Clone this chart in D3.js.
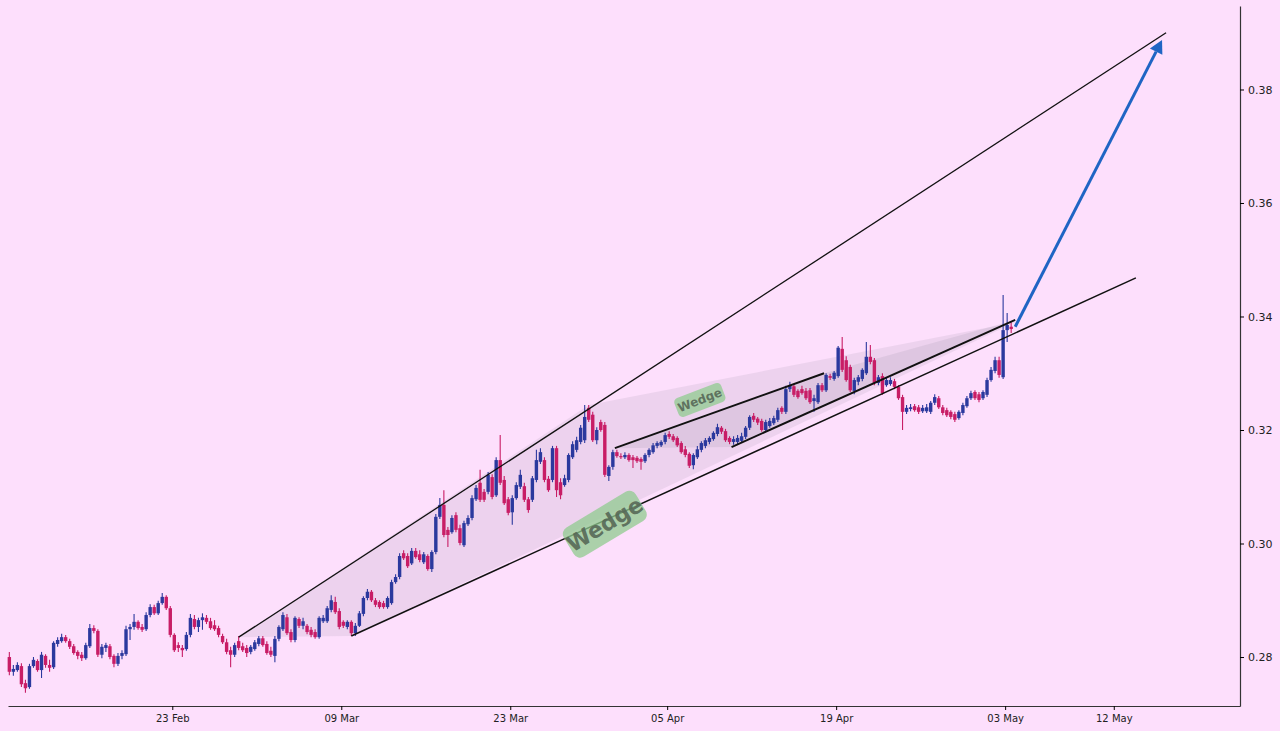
<!DOCTYPE html>
<html><head><meta charset="utf-8">
<script src="https://cdn.jsdelivr.net/npm/d3@7"></script>
<style>html,body{margin:0;padding:0;background:#fddffc;} svg{display:block}</style>
</head><body><svg id="c" width="1280" height="731"></svg>
<script>
// ---- data ----
const candleStart = "2023-02-09T12:00";   // first 8h candle
const candleHours = 8;
const opens=[.2800,.2774,.2777,.2784,.2754,.2747,.2784,.2793,.2777,.2802,
.2786,.2782,.2823,.2828,.2835,.2828,.2819,.2809,.2804,.2798,
.2819,.2851,.2846,.2804,.2816,.2819,.2802,.2788,.2802,.2805,
.2849,.2853,.2862,.2853,.2849,.2874,.2888,.2877,.2895,.2906,
.2886,.2839,.2821,.2816,.2814,.2839,.2867,.2853,.2865,.2869,
.2863,.2856,.2851,.2837,.2826,.2812,.2804,.2828,.2819,.2816,
.2809,.2814,.2823,.2833,.2823,.2811,.2802,.2832,.2849,.2870,
.2844,.2830,.2867,.2855,.2855,.2848,.2844,.2835,.2863,.2863,
.2883,.2897,.2881,.2862,.2853,.2862,.2842,.2855,.2876,.2904,
.2915,.2900,.2897,.2895,.2888,.2895,.2932,.2941,.2983,.2978,
.2965,.2987,.2981,.2967,.2978,.2955,.2985,.3047,.3068,.3024,
.3020,.3050,.3027,.2997,.3034,.3045,.3078,.3107,.3091,.3091,
.3117,.3085,.3147,.3112,.3078,.3055,.3080,.3100,.3101,.3078,
.3077,.3112,.3144,.3147,.3114,.3112,.3168,.3108,.3103,.3112,
.3152,.3165,.3179,.3182,.3239,.3227,.3182,.3214,.3209,.3119,
.3135,.3161,.3154,.3152,.3156,.3152,.3151,.3149,.3145,.3156,
.3161,.3172,.3173,.3179,.3193,.3189,.3186,.3177,.3166,.3158,
.3138,.3152,.3165,.3172,.3179,.3184,.3193,.3204,.3198,.3186,
.3179,.3179,.3181,.3188,.3204,.3225,.3220,.3216,.3200,.3207,
.3212,.3218,.3239,.3232,.3272,.3277,.3269,.3272,.3269,.3270,
.3251,.3249,.3279,.3270,.3295,.3290,.3295,.3343,.3323,.3311,
.3269,.3285,.3290,.3300,.3329,.3323,.3283,.3295,.3279,.3281,
.3286,.3276,.3258,.3232,.3237,.3242,.3240,.3233,.3233,.3232,
.3248,.3256,.3240,.3235,.3232,.3228,.3221,.3230,.3242,.3256,
.3267,.3263,.3256,.3262,.3288,.3304,.3323,.3293,.3376,.3382];
const highs=[.2809,.2786,.2791,.2789,.2760,.2788,.2800,.2796,.2809,.2805,
.2795,.2828,.2835,.2841,.2839,.2832,.2823,.2812,.2809,.2825,
.2858,.2856,.2849,.2823,.2825,.2823,.2805,.2807,.2812,.2855,
.2858,.2876,.2865,.2858,.2879,.2893,.2892,.2899,.2913,.2909,
.2890,.2842,.2826,.2821,.2844,.2876,.2874,.2869,.2877,.2874,
.2869,.2865,.2855,.2841,.2832,.2818,.2825,.2837,.2825,.2821,
.2821,.2830,.2837,.2837,.2828,.2818,.2837,.2856,.2879,.2876,
.2849,.2872,.2870,.2869,.2858,.2853,.2849,.2872,.2874,.2890,
.2909,.2906,.2886,.2865,.2865,.2865,.2860,.2881,.2907,.2920,
.2918,.2904,.2900,.2899,.2907,.2936,.2946,.2983,.2988,.2983,
.2992,.2992,.2988,.2985,.2981,.2988,.3052,.3080,.3094,.3029,
.3050,.3055,.3033,.3040,.3050,.3085,.3103,.3130,.3096,.3126,
.3122,.3152,.3191,.3119,.3082,.3085,.3108,.3130,.3107,.3082,
.3119,.3165,.3168,.3152,.3119,.3172,.3172,.3115,.3121,.3159,
.3180,.3188,.3209,.3244,.3244,.3232,.3205,.3218,.3214,.3138,
.3165,.3165,.3159,.3161,.3159,.3156,.3154,.3152,.3159,.3168,
.3177,.3180,.3182,.3195,.3198,.3193,.3189,.3180,.3172,.3161,
.3159,.3172,.3180,.3186,.3189,.3198,.3211,.3207,.3202,.3189,
.3189,.3191,.3195,.3207,.3226,.3230,.3223,.3220,.3218,.3221,
.3225,.3239,.3242,.3278,.3285,.3281,.3272,.3278,.3274,.3274,
.3262,.3283,.3283,.3300,.3299,.3304,.3348,.3364,.3330,.3315,
.3292,.3297,.3309,.3355,.3350,.3327,.3297,.3300,.3292,.3293,
.3290,.3279,.3262,.3244,.3246,.3246,.3244,.3244,.3246,.3251,
.3263,.3260,.3244,.3239,.3235,.3232,.3235,.3248,.3260,.3269,
.3270,.3267,.3270,.3292,.3311,.3329,.3329,.3438,.3406,.3390];
const lows=[.2768,.2767,.2774,.2747,.2737,.2744,.2781,.2774,.2763,.2781,
.2774,.2779,.2818,.2825,.2825,.2814,.2804,.2796,.2793,.2795,
.2816,.2842,.2800,.2798,.2809,.2796,.2782,.2784,.2796,.2802,
.2830,.2848,.2848,.2844,.2846,.2870,.2874,.2874,.2892,.2883,
.2835,.2809,.2809,.2800,.2811,.2835,.2849,.2844,.2848,.2858,
.2848,.2846,.2835,.2823,.2805,.2782,.2800,.2812,.2809,.2800,
.2805,.2811,.2819,.2818,.2804,.2800,.2791,.2828,.2846,.2839,
.2826,.2826,.2851,.2849,.2840,.2835,.2832,.2832,.2860,.2860,
.2879,.2876,.2849,.2851,.2849,.2837,.2837,.2853,.2872,.2900,
.2897,.2888,.2885,.2885,.2885,.2892,.2929,.2937,.2971,.2957,
.2962,.2973,.2967,.2964,.2952,.2950,.2981,.3043,.3011,.2994,
.3017,.3020,.2997,.2994,.3031,.3041,.3075,.3073,.3073,.3087,
.3078,.3082,.3103,.3068,.3050,.3033,.3077,.3096,.3073,.3054,
.3073,.3108,.3140,.3108,.3091,.3108,.3082,.3078,.3100,.3108,
.3149,.3161,.3175,.3177,.3214,.3179,.3175,.3197,.3117,.3110,
.3130,.3151,.3149,.3149,.3144,.3133,.3142,.3130,.3142,.3152,
.3158,.3168,.3170,.3175,.3184,.3179,.3170,.3158,.3152,.3133,
.3131,.3149,.3161,.3168,.3175,.3181,.3189,.3193,.3179,.3175,
.3174,.3175,.3177,.3184,.3200,.3214,.3209,.3197,.3197,.3204,
.3209,.3214,.3228,.3228,.3267,.3258,.3255,.3262,.3253,.3246,
.3232,.3246,.3267,.3267,.3288,.3287,.3292,.3302,.3285,.3267,
.3263,.3279,.3286,.3297,.3316,.3279,.3279,.3262,.3276,.3278,
.3272,.3253,.3200,.3228,.3233,.3232,.3228,.3230,.3230,.3228,
.3244,.3237,.3226,.3223,.3219,.3214,.3218,.3226,.3239,.3253,
.3253,.3249,.3253,.3258,.3285,.3300,.3292,.3290,.3355,.3371];
const closes=[.2774,.2779,.2786,.2752,.2745,.2784,.2795,.2777,.2804,.2786,
.2781,.2825,.2830,.2835,.2828,.2818,.2807,.2802,.2798,.2821,
.2851,.2846,.2804,.2818,.2821,.2800,.2788,.2802,.2807,.2849,
.2853,.2862,.2851,.2848,.2874,.2888,.2877,.2895,.2906,.2886,
.2839,.2812,.2816,.2812,.2839,.2869,.2853,.2865,.2870,.2862,
.2851,.2849,.2839,.2826,.2809,.2804,.2821,.2816,.2812,.2807,
.2818,.2826,.2833,.2821,.2807,.2804,.2832,.2853,.2874,.2842,
.2830,.2869,.2855,.2863,.2844,.2839,.2835,.2869,.2869,.2886,
.2900,.2879,.2853,.2855,.2862,.2842,.2855,.2877,.2904,.2915,
.2900,.2892,.2888,.2888,.2904,.2932,.2941,.2978,.2974,.2960,
.2987,.2976,.2971,.2981,.2955,.2985,.3047,.3068,.3015,.3015,
.3045,.3024,.3001,.3036,.3045,.3080,.3098,.3077,.3077,.3121,
.3082,.3147,.3107,.3071,.3054,.3080,.3103,.3121,.3077,.3059,
.3115,.3147,.3161,.3112,.3094,.3168,.3094,.3085,.3115,.3156,
.3175,.3182,.3204,.3223,.3218,.3182,.3200,.3200,.3121,.3135,
.3161,.3154,.3152,.3156,.3147,.3147,.3145,.3144,.3156,.3165,
.3173,.3177,.3179,.3191,.3188,.3182,.3173,.3161,.3156,.3137,
.3156,.3166,.3177,.3182,.3186,.3195,.3205,.3197,.3182,.3179,
.3184,.3186,.3189,.3204,.3223,.3218,.3213,.3200,.3214,.3216,
.3221,.3235,.3232,.3272,.3279,.3262,.3258,.3265,.3256,.3249,
.3256,.3279,.3270,.3297,.3292,.3301,.3345,.3306,.3288,.3270,
.3288,.3293,.3306,.3329,.3320,.3283,.3293,.3265,.3288,.3288,
.3276,.3256,.3232,.3239,.3240,.3235,.3232,.3239,.3240,.3248,
.3258,.3240,.3230,.3226,.3223,.3218,.3232,.3244,.3256,.3265,
.3256,.3253,.3267,.3288,.3306,.3323,.3297,.3376,.3385,.3378];

// pattern annotations (time, price)
const bigWedge   = [["2023-02-28T12:00",.2835],["2023-03-29T12:00",.3244],["2023-05-03T20:00",.3390],["2023-03-09T20:00",.2837]];
const bigUpper   = [["2023-02-28T12:00",.2835],["2023-05-16T08:00",.3900]];
const bigLower   = [["2023-03-09T20:00",.2837],["2023-05-13T20:00",.3468]];
const smallWedge = [["2023-03-31T16:00",.3168],["2023-04-18T00:00",.3300],["2023-05-03T20:00",.3394],["2023-04-10T08:00",.3170]];
const smallUpper = [["2023-03-31T16:00",.3168],["2023-04-18T00:00",.3300]];
const smallLower = [["2023-04-10T08:00",.3170],["2023-05-03T20:00",.3394]];
const targetArrow= [["2023-05-03T20:00",.3382],["2023-05-16T00:00",.3887]];
const labels = [
  {text:"Wedge", t:"2023-03-30T20:00", p:.3034, size:22, angle:-31, w:84, h:34},
  {text:"Wedge", t:"2023-04-07T17:00", p:.3253, size:12, angle:-21, w:50, h:20}
];
const xTickDates = ["2023-02-23","2023-03-09","2023-03-23","2023-04-05","2023-04-19","2023-05-03","2023-05-12"];
const yTickValues = [0.28,0.30,0.32,0.34,0.36,0.38];

// ---- chart ----
const T = s => new Date(s.length > 10 ? s + "Z" : s + "T00:00Z");
const svg = d3.select("#c");
const W = 1280, H = 731;
svg.append("rect").attr("width",W).attr("height",H).attr("fill","#fddffc");

const x = d3.scaleUtc().domain([T("2023-02-09T09:20"), T("2023-05-22T11:00")]).range([8,1240]);
const y = d3.scaleLinear().domain([0.27137,0.39471]).range([706,6]);

const t0 = T(candleStart).getTime();
const candles = closes.map((c,i)=>({t:new Date(t0 + i*candleHours*3600e3), o:opens[i], h:highs[i], l:lows[i], c}));

const pt = d => [x(T(d[0])), y(d[1])];
const line = d3.line().x(d=>x(T(d[0]))).y(d=>y(d[1]));

// fills
svg.append("path").attr("d", line(bigWedge)+"Z").attr("fill","#7a7a8a").attr("fill-opacity",0.12);
svg.append("path").attr("d", line(smallWedge)+"Z").attr("fill","#7a7a8a").attr("fill-opacity",0.13);

// candles
const up = "#2b399e", dn = "#c81d66";
const g = svg.append("g");
g.selectAll("line.w").data(candles).join("line")
  .attr("x1",d=>x(d.t)).attr("x2",d=>x(d.t))
  .attr("y1",d=>y(d.h)).attr("y2",d=>y(d.l))
  .attr("stroke",d=>d.c>=d.o?up:dn).attr("stroke-width",1.1);
g.selectAll("rect.b").data(candles).join("rect")
  .attr("x",d=>x(d.t)-1.7).attr("width",3.4)
  .attr("y",d=>y(Math.max(d.o,d.c)))
  .attr("height",d=>Math.max(1, Math.abs(y(d.o)-y(d.c))))
  .attr("fill",d=>d.c>=d.o?up:dn);

// lines
[[bigUpper,1.3],[bigLower,1.5],[smallUpper,1.9],[smallLower,1.9]].forEach(([d,w])=>{
  svg.append("path").attr("d",line(d)).attr("fill","none").attr("stroke","#111").attr("stroke-width",w);
});

// arrow
const [a0,a1] = targetArrow.map(pt);
const ang = Math.atan2(a1[1]-a0[1], a1[0]-a0[0]);
const hl = 13, hw = 7;
const bx = a1[0]-hl*Math.cos(ang), by = a1[1]-hl*Math.sin(ang);
svg.append("line").attr("x1",a0[0]).attr("y1",a0[1]).attr("x2",bx).attr("y2",by)
  .attr("stroke","#1f65c4").attr("stroke-width",3);
svg.append("path").attr("d",`M${a1[0]},${a1[1]} L${bx+hw*Math.sin(ang)},${by-hw*Math.cos(ang)} L${bx-hw*Math.sin(ang)},${by+hw*Math.cos(ang)}Z`)
  .attr("fill","#1f65c4");

// labels
labels.forEach(L=>{
  const gg = svg.append("g").attr("transform",`translate(${x(T(L.t))},${y(L.p)}) rotate(${L.angle})`);
  gg.append("rect").attr("x",-L.w/2).attr("y",-L.h/2).attr("width",L.w).attr("height",L.h)
    .attr("rx",L.h*0.22).attr("fill","#8fcb8f").attr("fill-opacity",0.75);
  gg.append("text").attr("text-anchor","middle").attr("dy","0.35em")
    .attr("font-family","DejaVu Sans, sans-serif").attr("font-weight","bold")
    .attr("font-size",L.size).attr("fill","#556655").attr("fill-opacity",0.9).text(L.text);
});

// axes
const xa = svg.append("g").attr("transform","translate(0,706)")
  .call(d3.axisBottom(x).tickValues(xTickDates.map(T)).tickFormat(d3.utcFormat("%d %b")).tickSize(4).tickSizeOuter(0));
xa.selectAll("text").attr("font-family","DejaVu Sans, sans-serif").attr("font-size",10).attr("fill","#222").attr("dy","0.9em");
xa.select(".domain").attr("stroke","#333").attr("stroke-width",1.2);
const ya = svg.append("g").attr("transform","translate(1240,0)")
  .call(d3.axisRight(y).tickValues(yTickValues).tickFormat(d3.format(".2f")).tickSize(4).tickSizeOuter(0));
ya.selectAll("text").attr("font-family","DejaVu Sans, sans-serif").attr("font-size",11).attr("fill","#222").attr("x",8);
ya.select(".domain").attr("stroke","#333").attr("stroke-width",1.2);
</script></body></html>
